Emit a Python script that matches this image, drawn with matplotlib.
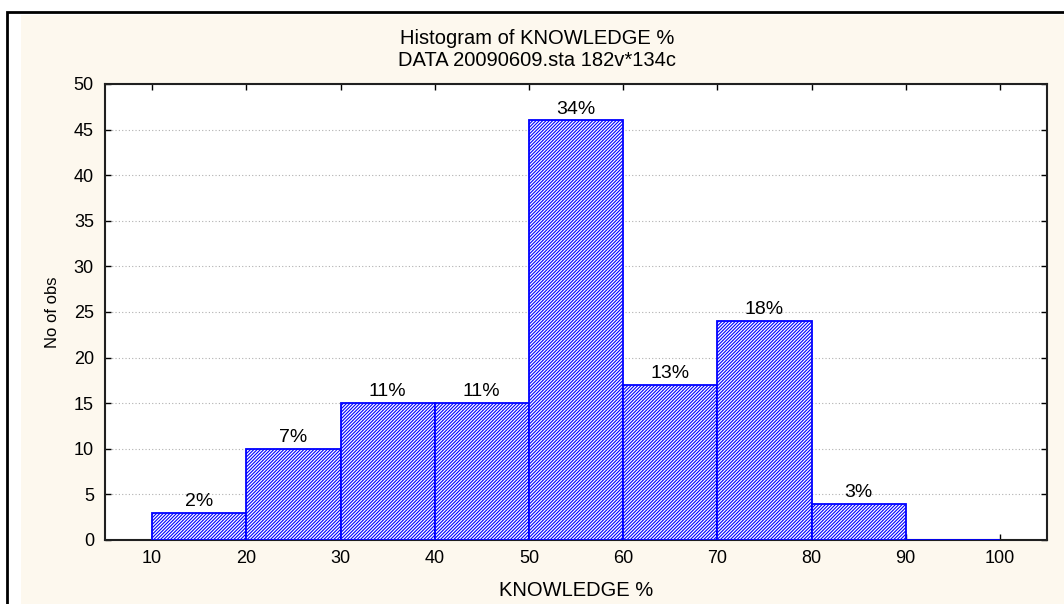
import matplotlib.pyplot as plt
import matplotlib.patches as mpatches
import numpy as np

plt.rcParams['font.family'] = ['Liberation Sans', 'DejaVu Sans']
plt.rcParams['hatch.color'] = '#0000ff'
plt.rcParams['hatch.linewidth'] = 0.8

bin_edges = [10, 20, 30, 40, 50, 60, 70, 80, 90, 100]
counts = [3, 10, 15, 15, 46, 17, 24, 4, 0]
pct_labels = ['2%', '7%', '11%', '11%', '34%', '13%', '18%', '3%', '']

W, H = 1064, 604
fig = plt.figure(figsize=(W / 100, H / 100), dpi=100, facecolor='white')

# outer frame (cut off on right and bottom) and cream panel
fig.patches.append(mpatches.Rectangle((7 / W, -0.1), 1.2, 1 - 12 / H + 0.1,
                                      transform=fig.transFigure, fc='white',
                                      ec='black', lw=2, zorder=-10))
fig.patches.append(mpatches.Rectangle((21 / W, -0.1), 1.2, 1 - 15 / H + 0.1,
                                      transform=fig.transFigure, fc='#fdf8ee',
                                      ec='none', zorder=-9))

ax = fig.add_axes([105 / W, 1 - 540 / H, (1047 - 105) / W, (540 - 84) / H])
ax.set_facecolor('white')

lefts = np.array(bin_edges[:-1])
widths = np.diff(bin_edges)
bars = ax.bar(lefts, counts, width=widths, align='edge', color='white',
              edgecolor='#0000ff', linewidth=1.3, hatch='//////////', zorder=3)

for x, w, c, lab in zip(lefts, widths, counts, pct_labels):
    if lab:
        ax.annotate(lab, (x + w / 2, c), xytext=(0, 2), textcoords='offset points',
                    ha='center', va='bottom', fontsize=14, zorder=4)

ax.set_xlim(5, 105)
ax.set_ylim(0, 50)
ax.set_xticks(bin_edges)
ax.set_yticks(np.arange(0, 51, 5))
ax.tick_params(direction='in', top=True, right=True, length=4, width=1,
               labelsize=13)
ax.tick_params(axis='x', pad=7)
ax.tick_params(axis='y', pad=8)
ax.yaxis.grid(True, linestyle=(0, (1, 2)), color='#b0b0b0', linewidth=0.8)
ax.set_axisbelow(True)
for s in ax.spines.values():
    s.set_linewidth(1.5)
    s.set_color('#202020')

ax.set_xlabel('KNOWLEDGE %', fontsize=14.5, labelpad=10)
ax.set_ylabel('No of obs', fontsize=12, labelpad=10)

fig.text(537 / W, 1 - 38 / H, 'Histogram of KNOWLEDGE %', ha='center',
         va='center', fontsize=14.5)
fig.text(537 / W, 1 - 60 / H, 'DATA 20090609.sta 182v*134c', ha='center',
         va='center', fontsize=14.5)

fig.savefig('out.png', dpi=100, facecolor='white')
